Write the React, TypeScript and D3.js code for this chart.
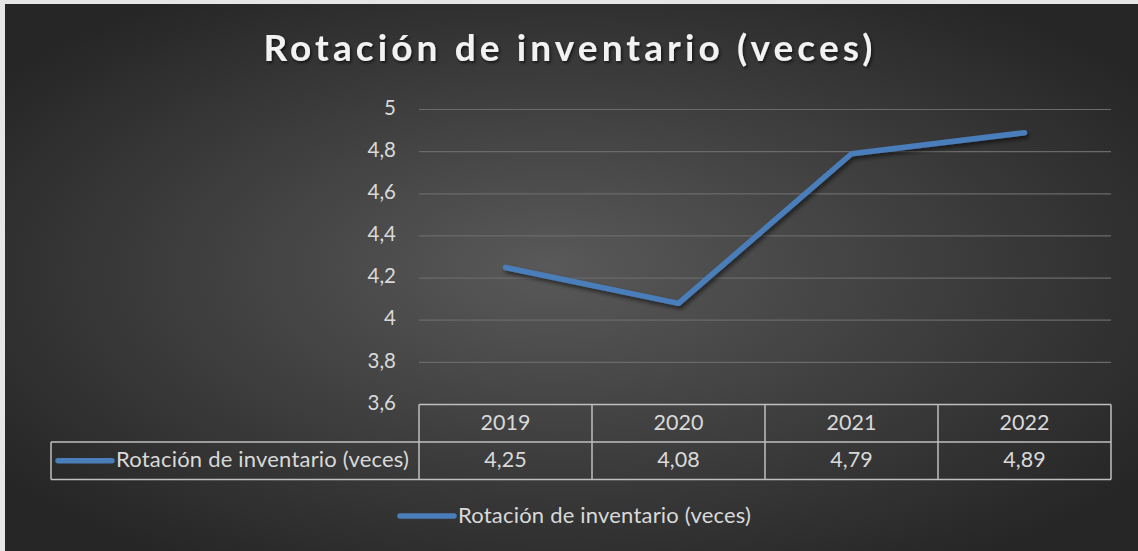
import React from "react";
import * as d3 from "d3";

const title = "Rotación de inventario (veces)";
const seriesName = "Rotación de inventario (veces)";
const years = ["2019", "2020", "2021", "2022"];
const values = [4.25, 4.08, 4.79, 4.89];
const yTicks = [3.6, 3.8, 4, 4.2, 4.4, 4.6, 4.8, 5];

const W = 1138;
const H = 551;
const FONT = "Lato, 'Open Sans', sans-serif";

export default function App() {
  const plotLeft = 419;
  const plotRight = 1111;
  const plotTop = 109.5;
  const plotBottom = 404.5;
  const tableLeft = 51;
  const rowH = 37.5;

  const x = d3.scaleBand<string>().domain(years).range([plotLeft, plotRight]).padding(0);
  const y = d3.scaleLinear().domain([3.6, 5]).range([plotBottom, plotTop]);
  const fmt = (v: number) => String(v).replace(".", ",");

  const line = d3
    .line<number>()
    .x((_, i) => (x(years[i]) as number) + x.bandwidth() / 2)
    .y((d) => y(d));

  const headerTop = plotBottom;
  const rowTop = headerTop + rowH;
  const rowBottom = rowTop + rowH;
  const legendY = 516;

  return (
    <svg
      width={W}
      height={H}
      style={{ position: "absolute", left: 0, top: 0, display: "block" }}
      fontFamily={FONT}
    >
      <defs>
        <radialGradient id="bg" cx="50%" cy="50%" r="62%" fx="48%" fy="48%">
          <stop offset="0%" stopColor="#595959" />
          <stop offset="100%" stopColor="#262626" />
        </radialGradient>
        <filter id="lineShadow" x="-10%" y="-10%" width="120%" height="130%">
          <feDropShadow dx="2" dy="3" stdDeviation="2" floodColor="#000" floodOpacity="0.55" />
        </filter>
        <filter id="textShadow" x="-5%" y="-20%" width="110%" height="150%">
          <feDropShadow dx="1.5" dy="2" stdDeviation="1.5" floodColor="#000" floodOpacity="0.6" />
        </filter>
      </defs>
      <rect x={0} y={0} width={W} height={H} fill="#e6e6e6" />
      <rect x={5} y={4} width={W - 5} height={H - 4} fill="url(#bg)" />

      <text
        x={570}
        y={52}
        textAnchor="middle"
        dominantBaseline="middle"
        fill="#f2f2f2"
        fontSize={37}
        fontWeight={700}
        letterSpacing={4.1}
        filter="url(#textShadow)"
      >
        {title}
      </text>

      {yTicks.map((t) => (
        <g key={t}>
          {t > 3.6 && (
            <line x1={plotLeft} x2={plotRight} y1={y(t)} y2={y(t)} stroke="#6a6a6a" strokeWidth={1.2} />
          )}
          <text
            x={396}
            y={y(t)}
            textAnchor="end"
            dominantBaseline="middle"
            fill="#d9d9d9"
            fontSize={20.5}
          >
            {fmt(t)}
          </text>
        </g>
      ))}

      <path
        d={line(values) || ""}
        fill="none"
        stroke="#4a7ebb"
        strokeWidth={5.5}
        strokeLinecap="round"
        strokeLinejoin="round"
        filter="url(#lineShadow)"
      />

      {/* data table */}
      <g stroke="#bfbfbf" strokeWidth={1.5} fill="none">
        <line x1={plotLeft} x2={plotRight} y1={headerTop} y2={headerTop} />
        <line x1={tableLeft} x2={plotRight} y1={rowTop} y2={rowTop} />
        <line x1={tableLeft} x2={plotRight} y1={rowBottom} y2={rowBottom} />
        <line x1={tableLeft} x2={tableLeft} y1={rowTop} y2={rowBottom} />
        {years.map((yr) => (
          <line key={yr} x1={x(yr)} x2={x(yr)} y1={headerTop} y2={rowBottom} />
        ))}
        <line x1={plotRight} x2={plotRight} y1={headerTop} y2={rowBottom} />
      </g>
      {years.map((yr, i) => (
        <g key={yr}>
          <text
            x={(x(yr) as number) + x.bandwidth() / 2}
            y={headerTop + rowH / 2 + 1}
            textAnchor="middle"
            dominantBaseline="middle"
            fill="#d9d9d9"
            fontSize={21.5}
          >
            {yr}
          </text>
          <text
            x={(x(yr) as number) + x.bandwidth() / 2}
            y={rowTop + rowH / 2 + 1}
            textAnchor="middle"
            dominantBaseline="middle"
            fill="#d9d9d9"
            fontSize={21.5}
          >
            {fmt(values[i])}
          </text>
        </g>
      ))}
      <line x1={58} x2={112} y1={rowTop + rowH / 2} y2={rowTop + rowH / 2} stroke="#4a7ebb" strokeWidth={5.5} strokeLinecap="round" />
      <text x={116} y={rowTop + rowH / 2 + 1} dominantBaseline="middle" fill="#d9d9d9" fontSize={22} letterSpacing={0.2}>
        {seriesName}
      </text>

      {/* legend */}
      <line x1={400} x2={454} y1={legendY} y2={legendY} stroke="#4a7ebb" strokeWidth={5.5} strokeLinecap="round" />
      <text x={458} y={legendY + 1} dominantBaseline="middle" fill="#d9d9d9" fontSize={22} letterSpacing={0.2}>
        {seriesName}
      </text>
    </svg>
  );
}
